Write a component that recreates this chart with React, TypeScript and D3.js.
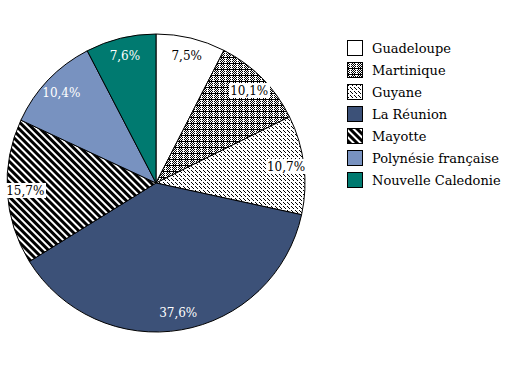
import React from "react";
import * as d3 from "d3";

const categories = ["Guadeloupe", "Martinique", "Guyane", "La Réunion", "Mayotte", "Polynésie française", "Nouvelle Caledonie"];
const values = [7.5, 10.1, 10.7, 37.6, 15.7, 10.4, 7.6];
const labels = ["7,5%", "10,1%", "10,7%", "37,6%", "15,7%", "10,4%", "7,6%"];
const fills = ["#ffffff", "url(#pMart)", "url(#pGuy)", "#3c5178", "url(#pMay)", "#7892c0", "#007a70"];
const labelColors = ["#000", "#000", "#000", "#fff", "#000", "#fff", "#fff"];
const labelBoxes = [false, true, true, false, true, false, false];

const W = 513, H = 368;
const cx = 156, cy = 183, R = 149, LR = 131;

function MartPattern() {
  const rects: JSX.Element[] = [];
  for (let y = 0; y < 6; y++) {
    for (let x = 0; x < 6; x++) {
      let black = (x + y) % 2 === 0;
      if (y === 0) black = true;
      if (x === 3) black = y === 0;
      if (black) rects.push(<rect key={x + "-" + y} x={x} y={y} width={1} height={1} fill="#000" />);
    }
  }
  return (
    <pattern id="pMart" width={6} height={6} patternUnits="userSpaceOnUse">
      <rect width={6} height={6} fill="#fff" />
      {rects}
    </pattern>
  );
}

export default function App() {
  const pie = d3.pie<number>().sort(null).value((d) => d).startAngle(0).endAngle(2 * Math.PI);
  const arcs = pie(values);
  const arc = d3.arc<d3.PieArcDatum<number>>().innerRadius(0).outerRadius(R);
  const labelArc = d3.arc<d3.PieArcDatum<number>>().innerRadius(LR).outerRadius(LR);
  const font = "DejaVu Serif, Liberation Serif, serif";
  const legendX = 347, legendY = 40, legendStep = 22, box = 15;

  return (
    <svg width={W} height={H} style={{ position: "absolute", left: 0, top: 0, background: "#fff" }} shapeRendering="crispEdges">
      <defs>
        <MartPattern />
        <pattern id="pGuy" width={4} height={4} patternUnits="userSpaceOnUse">
          <rect width={4} height={4} fill="#fff" />
          <rect x={0} y={0} width={1} height={1} fill="#000" />
          <rect x={1} y={1} width={1} height={1} fill="#000" />
          <rect x={3} y={3} width={1} height={1} fill="#000" />
        </pattern>
        <pattern id="pMay" width={5} height={5} patternUnits="userSpaceOnUse" patternTransform="rotate(-45)">
          <rect width={5} height={5} fill="#fff" />
          <rect x={0} y={0} width={2.5} height={5} fill="#000" />
        </pattern>
      </defs>
      <g transform={`translate(${cx},${cy})`}>
        {arcs.map((a, i) => (
          <path key={i} d={arc(a) || ""} fill={fills[i]} stroke="#000" strokeWidth={1} shapeRendering="geometricPrecision" />
        ))}
        {arcs.map((a, i) => {
          const [x, y] = labelArc.centroid(a);
          const tw = labels[i].length * 7 + 6;
          return (
            <g key={"l" + i} transform={`translate(${x},${y})`}>
              {labelBoxes[i] && <rect x={-tw / 2} y={-8} width={tw} height={15} fill="#fff" />}
              <text x={0} y={4.5} textAnchor="middle" style={{ fontFamily: font, fontSize: "12px" }} fill={labelColors[i]}>
                {labels[i]}
              </text>
            </g>
          );
        })}
      </g>
      <g>
        {categories.map((c, i) => (
          <g key={c} transform={`translate(${legendX},${legendY + i * legendStep})`}>
            <rect x={0.5} y={0.5} width={box} height={box} fill={fills[i]} stroke="#000" strokeWidth={1} />
            <text x={box + 10} y={12.5} style={{ fontFamily: font, fontSize: "13px" }} fill="#000">
              {c}
            </text>
          </g>
        ))}
      </g>
    </svg>
  );
}
